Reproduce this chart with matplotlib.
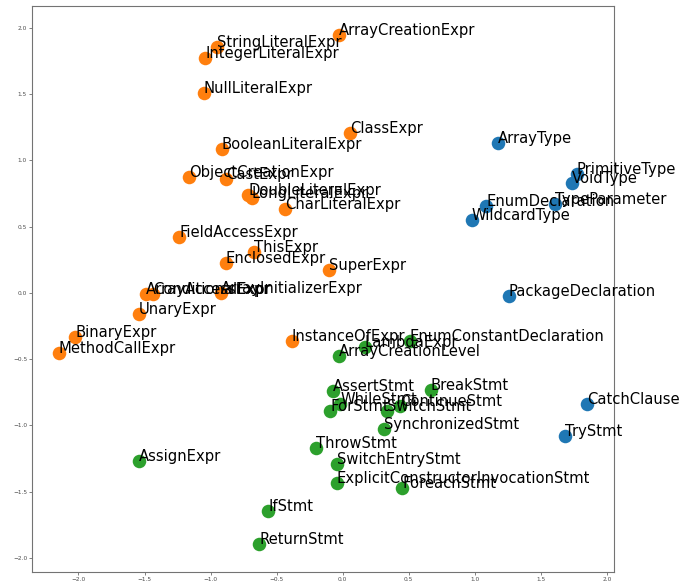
import matplotlib
matplotlib.use("Agg")
import matplotlib.pyplot as plt

# Cluster 0: type / declaration nodes
types_labels = ["ArrayType", "PrimitiveType", "VoidType", "TypeParameter", "EnumDeclaration",
                "WildcardType", "PackageDeclaration", "CatchClause", "TryStmt"]
types_x = [1.173, 1.771, 1.733, 1.607, 1.085, 0.976, 1.257, 1.847, 1.683]
types_y = [1.130, 0.896, 0.832, 0.672, 0.657, 0.551, -0.023, -0.840, -1.079]

# Cluster 1: expression nodes
expr_labels = ["ArrayCreationExpr", "StringLiteralExpr", "IntegerLiteralExpr", "NullLiteralExpr",
               "ClassExpr", "BooleanLiteralExpr", "ObjectCreationExpr", "CastExpr",
               "DoubleLiteralExpr", "LongLiteralExpr", "CharLiteralExpr", "FieldAccessExpr",
               "ThisExpr", "EnclosedExpr", "SuperExpr", "ArrayAccessExpr", "ConditionalExpr",
               "ArrayInitializerExpr", "UnaryExpr", "BinaryExpr", "MethodCallExpr", "InstanceOfExpr"]
expr_x = [-0.031, -0.951, -1.040, -1.053, 0.055, -0.916, -1.161, -0.885,
          -0.714, -0.689, -0.437, -1.237, -0.672, -0.884, -0.106, -1.489, -1.434,
          -0.923, -1.544, -2.026, -2.148, -0.386]
expr_y = [1.947, 1.854, 1.776, 1.512, 1.205, 1.085, 0.878, 0.863,
          0.740, 0.719, 0.631, 0.420, 0.312, 0.224, 0.174, -0.010, -0.010,
          0.002, -0.158, -0.330, -0.454, -0.365]

# Cluster 2: statement nodes
stmt_labels = ["EnumConstantDeclaration", "LambdaExpr", "ArrayCreationLevel", "AssertStmt",
               "BreakStmt", "WhileStmt", "ForStmt", "SwitchStmt", "ContinueStmt",
               "SynchronizedStmt", "ThrowStmt", "SwitchEntryStmt",
               "ExplicitConstructorInvocationStmt", "ForeachStmt", "AssignExpr",
               "IfStmt", "ReturnStmt"]
stmt_x = [0.509, 0.168, -0.029, -0.074, 0.666, -0.020, -0.096, 0.338, 0.437,
          0.315, -0.204, -0.041, -0.045, 0.451, -1.540, -0.563, -0.631]
stmt_y = [-0.362, -0.405, -0.478, -0.737, -0.732, -0.840, -0.891, -0.888, -0.857,
          -1.029, -1.172, -1.291, -1.432, -1.474, -1.266, -1.643, -1.894]

fig = plt.figure(figsize=(6.91, 5.87), dpi=100)
ax = fig.add_axes([0.0463, 0.0256, 0.8423, 0.9642])

groups = [
    (types_labels, types_x, types_y, "tab:blue"),
    (expr_labels, expr_x, expr_y, "tab:orange"),
    (stmt_labels, stmt_x, stmt_y, "tab:green"),
]
for labels, xs, ys, color in groups:
    ax.scatter(xs, ys, s=95, color=color, linewidths=0)
for labels, xs, ys, color in groups:
    for lab, x, y in zip(labels, xs, ys):
        ax.annotate(lab, (x, y), fontsize=10.6, color="black")

ax.set_xlim(-2.352, 2.054)
ax.set_ylim(-2.106, 2.166)
ax.set_xticks([-2.0, -1.5, -1.0, -0.5, 0.0, 0.5, 1.0, 1.5, 2.0])
ax.set_yticks([-2.0, -1.5, -1.0, -0.5, 0.0, 0.5, 1.0, 1.5, 2.0])
ax.tick_params(labelsize=4.2, length=2, width=0.5, pad=1.5, colors="0.3")
for sp in ax.spines.values():
    sp.set_color("0.45")
    sp.set_linewidth(0.8)

fig.savefig("out.png", dpi=100)
